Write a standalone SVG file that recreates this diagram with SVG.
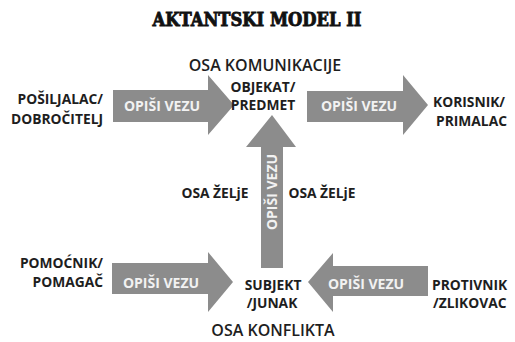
<svg xmlns="http://www.w3.org/2000/svg" width="515" height="342" viewBox="0 0 515 342">
<style>
.arr{fill:#8c8c8c}
.lbl{font-family:"Open Sans","Liberation Sans",sans-serif;font-weight:bold;font-size:13.8px;fill:#1e1e1e}
.at{font-family:"Open Sans","Liberation Sans",sans-serif;font-weight:bold;font-size:14px;fill:#f2f2f2}
.ax{font-family:"Open Sans","Liberation Sans",sans-serif;font-weight:600;font-size:16px;fill:#1e1e1e}
.title{font-family:"DejaVu Serif","Liberation Serif",serif;font-weight:900;font-size:18px;fill:#111;stroke:#111;stroke-width:0.9px}
</style>
<rect width="515" height="342" fill="#fff"/>
<text class="title" x="257" y="26" text-anchor="middle" textLength="209" lengthAdjust="spacingAndGlyphs">AKTANTSKI MODEL II</text>
<text class="ax" x="265" y="71" text-anchor="middle">OSA KOMUNIKACIJE</text>
<text class="ax" x="273" y="336" text-anchor="middle">OSA KONFLIKTA</text>
<g id="connectors">
<g id="arrow-top-left"><polygon class="arr" points="113,90 208,90 208,75 234,105 208,135 208,122 113,122"/><text class="at" x="162" y="111" text-anchor="middle">OPIŠI VEZU</text></g>
<g id="arrow-top-right"><polygon class="arr" points="307,91 403,91 403,75 428,105 403,135 403,122 307,122"/><text class="at" x="359" y="111" text-anchor="middle">OPIŠI VEZU</text></g>
<g id="arrow-up"><polygon class="arr" points="261,268 261,147 246,147 272,115 296,147 283,147 283,268"/><text class="at" transform="translate(276.5,192) rotate(-90)" text-anchor="middle" font-size="11.5">OPIŠI VEZU</text></g>
<g id="arrow-bottom-left"><polygon class="arr" points="112,263 208,263 208,252 233,282 208,312 208,294 112,294"/><text class="at" x="161" y="288" text-anchor="middle">OPIŠI VEZU</text></g>
<g id="arrow-bottom-right"><polygon class="arr" points="428,266 333,266 333,253 308,282 333,312 333,296 428,296"/><text class="at" x="366" y="289" text-anchor="middle">OPIŠI VEZU</text></g>
</g>
<g id="posiljalac"><text class="lbl" x="103" y="104" text-anchor="end">POŠILJALAC/</text><text class="lbl" x="103" y="124" text-anchor="end">DOBROČITELJ</text></g>
<g id="objekat"><text class="lbl" x="263" y="92" text-anchor="middle" font-size="12">OBJEKAT/</text><text class="lbl" x="263" y="110" text-anchor="middle" font-size="12">PREDMET</text></g>
<g id="korisnik"><text class="lbl" x="433" y="107">KORISNIK/</text><text class="lbl" x="436" y="126">PRIMALAC</text></g>
<g id="zelja-left"><text class="lbl" x="215" y="198" text-anchor="middle">OSA ŽELjE</text></g>
<g id="zelja-right"><text class="lbl" x="322" y="198" text-anchor="middle">OSA ŽELjE</text></g>
<g id="pomocnik"><text class="lbl" x="103" y="268" text-anchor="end">POMOĆNIK/</text><text class="lbl" x="103" y="287" text-anchor="end">POMAGAČ</text></g>
<g id="subjekt"><text class="lbl" x="273" y="290" text-anchor="middle">SUBJEKT</text><text class="lbl" x="272" y="308" text-anchor="middle">/JUNAK</text></g>
<g id="protivnik"><text class="lbl" x="432" y="290">PROTIVNIK</text><text class="lbl" x="433" y="308">/ZLIKOVAC</text></g>
</svg>
